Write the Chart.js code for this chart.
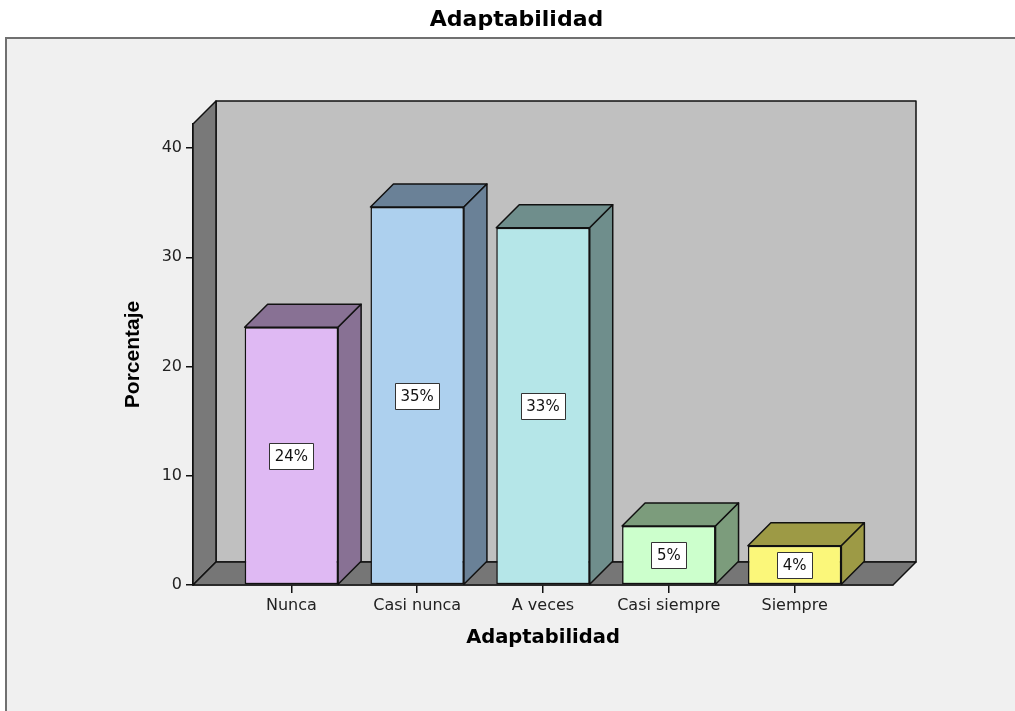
<!DOCTYPE html>
<html>
<head>
<meta charset="utf-8">
<title>Adaptabilidad</title>
<script src="https://cdn.jsdelivr.net/npm/chart.js@4.4.1/dist/chart.umd.min.js"></script>
<style>
  html, body { margin: 0; padding: 0; background: #fff; }
  canvas { display: block; }
</style>
</head>
<body>
<canvas id="myChart" width="1015" height="711"></canvas>
<script>
// Adaptabilidad: porcentaje de respuestas por categoría
const categories = ["Nunca", "Casi nunca", "A veces", "Casi siempre", "Siempre"];
const percentages = [23.6, 34.6, 32.7, 5.4, 3.6];
const yTicks = [0, 10, 20, 30, 40];

// face colours: front, then the darker top/side
const frontColors = ["#dfb9f3", "#add0ee", "#b5e6e8", "#ccffcc", "#fbf77a"];
const shadeColors = ["#887194", "#6a8197", "#6f8e8c", "#7c9c7c", "#9d9a45"];

const DEPTH = 23; // 3d offset of the box, px

Chart.defaults.font.family = "'DejaVu Sans'";
Chart.defaults.color = "#222";

function poly(ctx, pts, fill) {
  ctx.beginPath();
  ctx.moveTo(pts[0][0], pts[0][1]);
  for (let i = 1; i < pts.length; i++) ctx.lineTo(pts[i][0], pts[i][1]);
  ctx.closePath();
  ctx.fillStyle = fill;
  ctx.fill();
  ctx.stroke();
}

// grey panel with the frame line
const frame = {
  id: "frame",
  beforeDraw(chart) {
    const { ctx, width, height } = chart;
    ctx.save();
    ctx.fillStyle = "#ffffff";
    ctx.fillRect(0, 0, width, height);
    ctx.fillStyle = "#f0f0f0";
    ctx.fillRect(7, 39, width - 7, height - 39);
    ctx.strokeStyle = "#707070";
    ctx.lineWidth = 2;
    ctx.beginPath();
    ctx.moveTo(6, height);
    ctx.lineTo(6, 38);
    ctx.lineTo(width, 38);
    ctx.stroke();
    ctx.restore();
  }
};

// walls, floor, bar tops/sides and the value tags
const box3d = {
  id: "box3d",
  beforeDatasetsDraw(chart) {
    const { ctx, chartArea: a } = chart;
    const d = DEPTH;
    ctx.save();
    ctx.strokeStyle = "#111";
    ctx.lineWidth = 1.5;
    ctx.lineJoin = "round";
    poly(ctx, [[a.left + d, a.top - d], [a.right + d, a.top - d], [a.right + d, a.bottom - d], [a.left + d, a.bottom - d]], "#c0c0c0");
    poly(ctx, [[a.left, a.top], [a.left + d, a.top - d], [a.left + d, a.bottom - d], [a.left, a.bottom]], "#797979");
    poly(ctx, [[a.left, a.bottom], [a.left + d, a.bottom - d], [a.right + d, a.bottom - d], [a.right, a.bottom]], "#767676");
    ctx.restore();
  },
  afterDatasetsDraw(chart) {
    const { ctx } = chart;
    const d = DEPTH;
    const meta = chart.getDatasetMeta(0);
    const points = chart.data.datasets[0].data;
    ctx.save();
    meta.data.forEach((bar, i) => {
      const { x, y, base, width } = bar.getProps(["x", "y", "base", "width"], true);
      const l = x - width / 2, r = x + width / 2;
      ctx.strokeStyle = "#111";
      ctx.lineWidth = 1.5;
      ctx.lineJoin = "round";
      poly(ctx, [[l, y], [l + d, y - d], [r + d, y - d], [r, y]], shadeColors[i]);
      poly(ctx, [[r, y], [r + d, y - d], [r + d, base - d], [r, base]], shadeColors[i]);

      const txt = Math.round(points[i].y) + "%";
      ctx.font = "15px 'DejaVu Sans'";
      const w = Math.round(ctx.measureText(txt).width + 11);
      const h = 26;
      const cy = Math.round((y + base) / 2);
      const bx = Math.round(x - w / 2) + 0.5, by = Math.round(cy - h / 2) + 0.5;
      ctx.fillStyle = "#ffffff";
      ctx.fillRect(bx, by, w, h);
      ctx.lineWidth = 1;
      ctx.strokeStyle = "#333";
      ctx.strokeRect(bx, by, w, h);
      ctx.fillStyle = "#111";
      ctx.textAlign = "center";
      ctx.textBaseline = "middle";
      ctx.fillText(txt, x, cy + 1);
    });
    ctx.restore();
  }
};

new Chart(document.getElementById("myChart"), {
  type: "bar",
  data: {
    datasets: [{
      data: percentages.map((v, i) => ({ x: i, y: v })),
      backgroundColor: frontColors,
      borderColor: "#111",
      borderWidth: 1.5,
      borderSkipped: false,
      barPercentage: 0.743,
      categoryPercentage: 1
    }]
  },
  options: {
    responsive: false,
    animation: false,
    layout: { padding: { left: 140, right: 122, top: 0, bottom: 0 } },
    plugins: {
      legend: { display: false },
      tooltip: { enabled: false },
      title: {
        display: true,
        text: "Adaptabilidad",
        color: "#000",
        font: { size: 22, weight: "bold" },
        padding: { top: 7, bottom: 90.6 }
      }
    },
    scales: {
      x: {
        type: "linear",
        min: -0.782,
        max: 4.782,
        offset: false,
        grid: { offset: false, drawOnChartArea: false, tickLength: 8, color: "#111", lineWidth: 1.5 },
        border: { display: true, color: "#111", width: 1.5 },
        ticks: {
          stepSize: 1,
          includeBounds: false,
          autoSkip: false,
          maxRotation: 0,
          padding: 3,
          font: { size: 16 },
          callback: (v) => (Number.isInteger(v) && categories[v]) || ""
        },
        title: {
          display: true,
          text: "Adaptabilidad",
          color: "#000",
          font: { size: 19.5, weight: "bold" },
          padding: { top: 0, bottom: 61 }
        },
        afterFit(scale) { scale.height = 126; }
      },
      y: {
        min: 0,
        max: 42.2,
        grid: { drawOnChartArea: false, tickLength: 7, color: "#111", lineWidth: 1.5 },
        border: { display: true, color: "#111", width: 1.5 },
        ticks: {
          stepSize: yTicks[1] - yTicks[0],
          includeBounds: false,
          padding: 4,
          font: { size: 16 },
          callback: (v) => (yTicks.includes(v) ? v : "")
        },
        title: {
          display: true,
          text: "Porcentaje",
          color: "#000",
          font: { family: "'Liberation Sans'", size: 21, weight: "bold" },
          padding: { top: -19, bottom: 0 }
        },
        afterFit(scale) { scale.width = 53; }
      }
    }
  },
  plugins: [frame, box3d]
});
</script>
</body>
</html>
